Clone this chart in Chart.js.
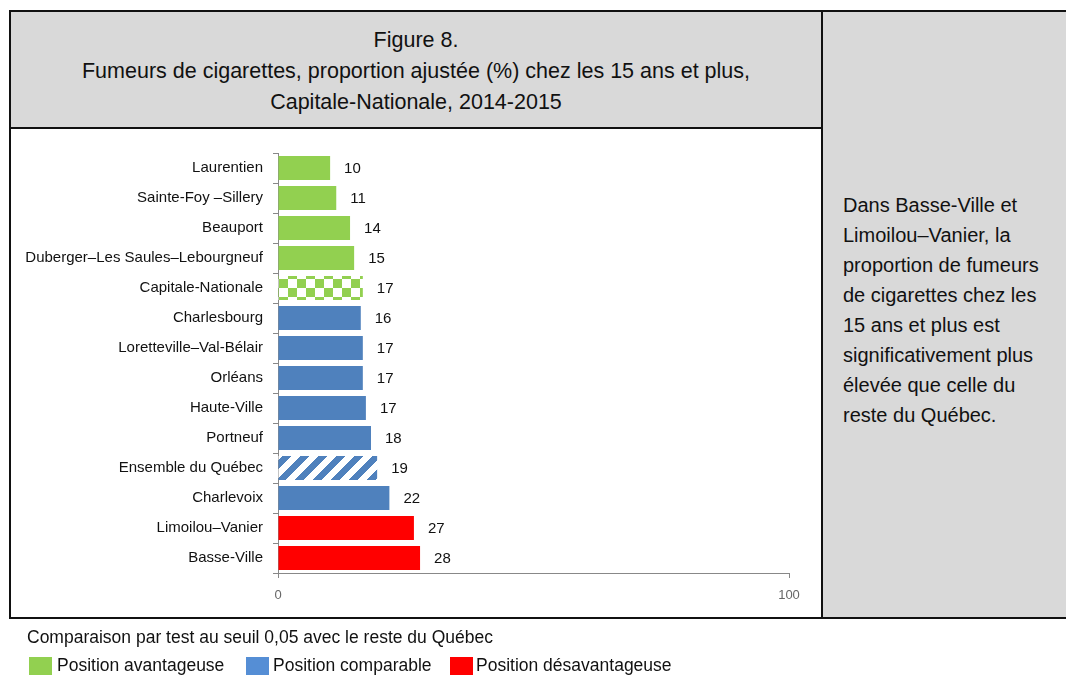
<!DOCTYPE html>
<html lang="fr">
<head>
<meta charset="utf-8">
<title>Figure 8</title>
<script src="https://cdn.jsdelivr.net/npm/chart.js@4.4.1/dist/chart.umd.min.js"></script>
<style>
  html, body { margin: 0; padding: 0; background: #fff; }
  body { width: 1066px; height: 675px; position: relative; overflow: hidden;
         font-family: "Liberation Sans", Arial, sans-serif; }
  .box { position: absolute; box-sizing: border-box; border: 2px solid #111; }
  .titre { left: 9px; top: 10px; width: 814px; height: 119px; background: #d9d9d9;
           text-align: center; font-size: 21.5px; line-height: 31px; padding-top: 13px; color: #111; }
  .graph { left: 9px; top: 127px; width: 814px; height: 492px; background: #fff; }
  .note { left: 821px; top: 10px; width: 250px; height: 609px; background: #d9d9d9;
          font-size: 20px; line-height: 30px; color: #111; padding: 178px 0 0 20px; }
  #wrap { position: absolute; left: 0; top: 0; width: 1066px; height: 675px; }
  .src { position: absolute; left: 27px; top: 627px; font-size: 17.5px; color: #111; white-space: nowrap; }
  .sw { position: absolute; top: 657px; width: 23px; height: 20px; }
  .it { position: absolute; top: 655px; font-size: 17.5px; color: #111; white-space: nowrap; }
</style>
</head>
<body>
<div class="box titre">Figure 8.<br>Fumeurs de cigarettes, proportion ajustée (%) chez les 15 ans et plus,<br>Capitale-Nationale, 2014-2015</div>
<div class="box graph"></div>
<div class="box note">Dans Basse-Ville et<br>Limoilou–Vanier, la<br>proportion de fumeurs<br>de cigarettes chez les<br>15 ans et plus est<br>significativement plus<br>élevée que celle du<br>reste du Québec.</div>
<div id="wrap"><canvas id="fig8"></canvas></div>
<div class="src">Comparaison par test au seuil 0,05 avec le reste du Québec</div>
<div class="sw" style="left:29px;background:#92d050"></div><div class="it" style="left:57px">Position avantageuse</div>
<div class="sw" style="left:246px;background:#558ed5"></div><div class="it" style="left:273px">Position comparable</div>
<div class="sw" style="left:450px;background:#ff0000"></div><div class="it" style="left:476px">Position désavantageuse</div>

<script>
const territoires = [
  "Laurentien",
  "Sainte-Foy –Sillery",
  "Beauport",
  "Duberger–Les Saules–Lebourgneuf",
  "Capitale-Nationale",
  "Charlesbourg",
  "Loretteville–Val-Bélair",
  "Orléans",
  "Haute-Ville",
  "Portneuf",
  "Ensemble du Québec",
  "Charlevoix",
  "Limoilou–Vanier",
  "Basse-Ville",
];
const proportions = [10.2, 11.4, 14.1, 14.9, 16.6, 16.2, 16.6, 16.6, 17.2, 18.2, 19.4, 21.8, 26.6, 27.8];
// av = avantageuse, comp = comparable, desav = désavantageuse, reg / qc = références
const positions = ["av", "av", "av", "av", "reg", "comp", "comp", "comp", "comp", "comp", "qc", "comp", "desav", "desav"];
const xTicks = [0, 100];

const police = "'Liberation Sans', Arial, sans-serif";

/* motifs ---------------------------------------------------------------- */
function damier() {
  const c = document.createElement("canvas");
  c.width = 18; c.height = 18;
  const g = c.getContext("2d");
  g.fillStyle = "#fff"; g.fillRect(0, 0, 18, 18);
  g.fillStyle = "#92d050";
  g.fillRect(0, 0, 9, 9); g.fillRect(9, 9, 9, 9);
  return g.createPattern(c, "repeat");
}
function hachures() {
  // bandes "/" : pixel bleu si (x + y) mod p < w
  const p = 18, w = 9;
  const c = document.createElement("canvas");
  c.width = p; c.height = p;
  const g = c.getContext("2d");
  g.fillStyle = "#fff"; g.fillRect(0, 0, p, p);
  g.fillStyle = "#4f81bd";
  for (let y = 0; y < p; y++) {
    for (let x = 0; x < p; x++) {
      if ((x + y) % p < w) g.fillRect(x, y, 1, 1);
    }
  }
  return g.createPattern(c, "repeat");
}

const couleurs = { av: "#92d050", comp: "#4f81bd", desav: "#ff0000", reg: damier(), qc: hachures() };

/* étiquettes de valeur --------------------------------------------------- */
const etiquettes = {
  id: "etiquettes",
  afterDatasetsDraw(chart) {
    const ctx = chart.ctx;
    const meta = chart.getDatasetMeta(0);
    ctx.save();
    ctx.font = "15px " + police;
    ctx.fillStyle = "#111";
    ctx.textAlign = "left";
    ctx.textBaseline = "middle";
    meta.data.forEach((bar, i) => {
      ctx.fillText(Math.round(proportions[i]).toString(), bar.x + 14, bar.y + 1);
    });
    ctx.restore();
  },
};

const ctx = document.getElementById("fig8").getContext("2d");

new Chart(ctx, {
  type: "bar",
  data: {
    labels: territoires,
    datasets: [
      {
        label: "Proportion ajustée (%)",
        data: proportions,
        backgroundColor: positions.map((p) => couleurs[p]),
        borderWidth: 0,
        categoryPercentage: 1,
        barPercentage: 0.8,
      },
    ],
  },
  options: {
    indexAxis: "y",
    responsive: true,
    maintainAspectRatio: false,
    animation: false,
    layout: { padding: { left: 0, right: 277, top: 153, bottom: 0 } },
    plugins: {
      legend: { display: false },
      tooltip: { enabled: false },
    },
    scales: {
      x: {
        min: 0,
        max: 100,
        afterBuildTicks: (scale) => {
          scale.ticks = xTicks.map((v) => ({ value: v }));
        },
        afterFit: (scale) => {
          scale.height = 102;
        },
        grid: {
          drawOnChartArea: false,
          tickLength: 5,
          color: "#888",
        },
        border: { color: "#888", width: 1 },
        ticks: {
          color: "#666",
          padding: 10,
          font: { family: police, size: 13 },
        },
      },
      y: {
        afterFit: (scale) => {
          scale.width = 278;
        },
        grid: {
          drawOnChartArea: false,
          tickLength: 5,
          color: "#888",
          offset: true,
        },
        border: { color: "#888", width: 1 },
        ticks: {
          color: "#111",
          padding: 10,
          font: { family: police, size: 15 },
        },
      },
    },
  },
  plugins: [etiquettes],
});
</script>
</body>
</html>
